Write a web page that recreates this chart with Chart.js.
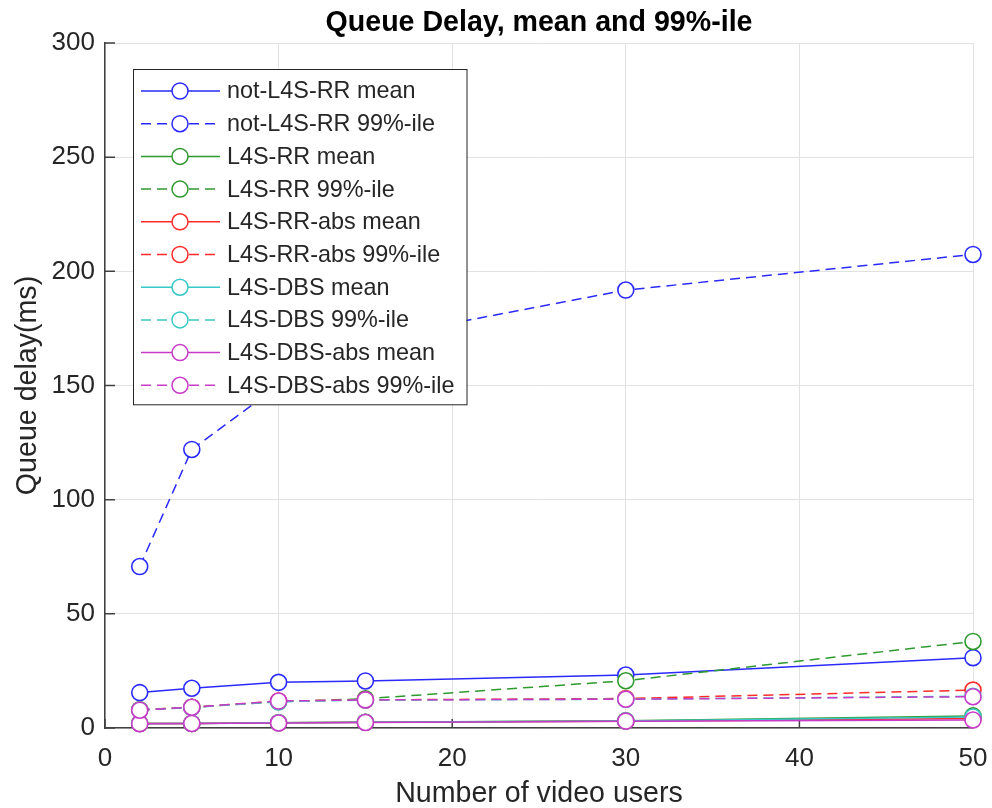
<!DOCTYPE html>
<html>
<head>
<meta charset="utf-8">
<title>Queue Delay, mean and 99%-ile</title>
<script src="https://cdn.jsdelivr.net/npm/chart.js@4.4.1/dist/chart.umd.min.js"></script>
<style>
  html, body { margin: 0; padding: 0; background: #fff; }
  #wrap { width: 992px; height: 808px; }
</style>
</head>
<body>
<div id="wrap"><canvas id="delay_chart" width="992" height="808"></canvas></div>
<script>
// -------------------------------
// Data
// -------------------------------
const users = [2, 5, 10, 15, 30, 50];
const xTicks = [0, 10, 20, 30, 40, 50];
const yTicks = [0, 50, 100, 150, 200, 250, 300];

const notRRMean = [15.5, 17.4, 20.0, 20.6, 23.2, 30.8];
const notRR99 = [70.7, 122.0, 150.0, 170.0, 191.8, 207.4];
const rrMean = [2.0, 2.0, 2.3, 2.5, 3.2, 5.3];
const rr99 = [8.0, 9.1, 11.5, 12.8, 20.7, 37.9];
const rrAbsMean = [2.0, 2.0, 2.3, 2.5, 3.0, 4.2];
const rrAbs99 = [7.9, 9.1, 11.8, 12.3, 12.9, 16.6];
const dbsMean = [2.0, 2.0, 2.3, 2.5, 3.1, 4.8];
const dbs99 = [7.9, 9.0, 11.5, 12.2, 12.6, 13.9];
const dbsAbsMean = [1.9, 2.0, 2.2, 2.4, 3.0, 3.5];
const dbsAbs99 = [7.8, 9.1, 11.8, 12.3, 12.6, 13.7];

const chartTitle = "Queue Delay, mean and 99%-ile";
const seriesNames = [
  "not-L4S-RR mean", "not-L4S-RR 99%-ile",
  "L4S-RR mean", "L4S-RR 99%-ile",
  "L4S-RR-abs mean", "L4S-RR-abs 99%-ile",
  "L4S-DBS mean", "L4S-DBS 99%-ile",
  "L4S-DBS-abs mean", "L4S-DBS-abs 99%-ile",
];
const seriesValues = [
  notRRMean, notRR99, rrMean, rr99, rrAbsMean,
  rrAbs99, dbsMean, dbs99, dbsAbsMean, dbsAbs99,
];

// -------------------------------
// Styling
// -------------------------------
const FONT = "'Liberation Sans', Arial, Helvetica, sans-serif";
const TEXT = "#262626";
const AXIS = "#404040";
const GRID = "#e2e2e2";
const seriesColors = ["#2a2aff", "#2a2aff", "#2e9a2e", "#2e9a2e", "#ff2a2a",
  "#ff2a2a", "#38c8c8", "#38c8c8", "#c83ac8", "#c83ac8"];
const DASH = [10, 6];

// Title centred over the plot area (MATLAB puts it there, not over the canvas)
const plotTitle = {
  id: "plotTitle",
  afterDraw(chart) {
    const { ctx, chartArea } = chart;
    ctx.save();
    ctx.font = `bold 28.6px ${FONT}`;
    ctx.fillStyle = "#000";
    ctx.textAlign = "center";
    ctx.textBaseline = "middle";
    ctx.fillText(chartTitle, (chartArea.left + chartArea.right) / 2, 23);
    ctx.restore();
  },
};

// Legend drawn MATLAB-style: line sample with a circle in the middle
const legendBox = {
  id: "legendBox",
  afterDatasetsDraw(chart) {
    const { ctx, chartArea } = chart;
    const sets = chart.data.datasets;
    const left = chartArea.left + 28;
    const top = chartArea.top + 26;
    const rowH = 32.7;
    const textX = left + 94;

    ctx.save();
    ctx.font = `23.4px ${FONT}`;
    const maxW = Math.max(...sets.map((d) => ctx.measureText(d.label).width));
    const w = textX - left + maxW + 12;
    const h = 22 + (sets.length - 1) * rowH + 19;
    ctx.fillStyle = "#fff";
    ctx.fillRect(left, top, w, h);
    ctx.strokeStyle = TEXT;
    ctx.lineWidth = 1;
    ctx.strokeRect(left + 0.5, top + 0.5, w, h);

    sets.forEach((ds, i) => {
      const y = top + 22 + i * rowH;
      ctx.strokeStyle = ds.borderColor;
      ctx.lineWidth = 1.5;
      ctx.setLineDash(ds.borderDash || []);
      ctx.beginPath();
      ctx.moveTo(left + 8, y);
      ctx.lineTo(left + 87, y);
      ctx.stroke();
      ctx.setLineDash([]);
      ctx.beginPath();
      ctx.arc(left + 47, y, 8, 0, Math.PI * 2);
      ctx.fillStyle = "#fff";
      ctx.fill();
      ctx.stroke();
      ctx.fillStyle = TEXT;
      ctx.textBaseline = "middle";
      ctx.textAlign = "left";
      ctx.fillText(ds.label, textX, y + 1);
    });
    ctx.restore();
  },
};

// Inward tick marks on the left and bottom axes
const inwardTicks = {
  id: "inwardTicks",
  beforeDatasetsDraw(chart) {
    const { ctx, chartArea, scales } = chart;
    ctx.save();
    ctx.strokeStyle = AXIS;
    ctx.lineWidth = 1.5;
    ctx.beginPath();
    scales.x.ticks.forEach((t) => {
      const x = scales.x.getPixelForValue(t.value);
      ctx.moveTo(x, chartArea.bottom);
      ctx.lineTo(x, chartArea.bottom - 9);
    });
    scales.y.ticks.forEach((t) => {
      const y = scales.y.getPixelForValue(t.value);
      ctx.moveTo(chartArea.left, y);
      ctx.lineTo(chartArea.left + 10, y);
    });
    ctx.stroke();
    ctx.restore();
  },
};

const datasets = seriesNames.map((name, i) => ({
  label: name,
  data: users.map((u, j) => ({ x: u, y: seriesValues[i][j] })),
  borderColor: seriesColors[i],
  borderWidth: 1.5,
  borderDash: i % 2 === 1 ? DASH : [],
  pointRadius: 8,
  pointHoverRadius: 8,
  pointBorderWidth: 1.6,
  pointBackgroundColor: "#fff",
  pointBorderColor: seriesColors[i],
  tension: 0,
  clip: false,
  order: seriesNames.length - i,
}));

new Chart(document.getElementById("delay_chart"), {
  type: "line",
  data: { datasets },
  plugins: [inwardTicks, legendBox, plotTitle],
  options: {
    responsive: false,
    animation: false,
    layout: { padding: { left: 0, right: 19, top: 43, bottom: 0 } },
    plugins: {
      legend: { display: false },
      tooltip: { enabled: false },
      title: { display: false },
    },
    scales: {
      x: {
        type: "linear",
        min: 0,
        max: 50,
        afterBuildTicks: (scale) => { scale.ticks = xTicks.map((v) => ({ value: v })); },
        afterFit: (scale) => {
          scale.height = 80;
          scale.paddingLeft = 0;
          scale.paddingRight = 0;
        },
        grid: { color: GRID, lineWidth: 1, drawTicks: false },
        border: { display: true, color: AXIS, width: 1.5 },
        ticks: { color: TEXT, font: { family: FONT, size: 26 }, padding: 15, maxRotation: 0 },
        title: {
          display: true,
          text: "Number of video users",
          color: TEXT,
          font: { family: FONT, size: 28.6, lineHeight: 1.0 },
          padding: { top: 0, bottom: 0 },
        },
      },
      y: {
        type: "linear",
        min: 0,
        max: 300,
        afterBuildTicks: (scale) => { scale.ticks = yTicks.map((v) => ({ value: v })); },
        afterFit: (scale) => {
          scale.width = 105;
          scale.paddingTop = 0;
          scale.paddingBottom = 0;
        },
        grid: { color: GRID, lineWidth: 1, drawTicks: false },
        border: { display: true, color: AXIS, width: 1.5 },
        ticks: { color: TEXT, font: { family: FONT, size: 26 }, padding: 10 },
        title: {
          display: true,
          text: "Queue delay(ms)",
          color: TEXT,
          font: { family: FONT, size: 28.6, lineHeight: 1.2 },
          padding: { top: 11, bottom: 0 },
        },
      },
    },
  },
});
</script>
</body>
</html>
